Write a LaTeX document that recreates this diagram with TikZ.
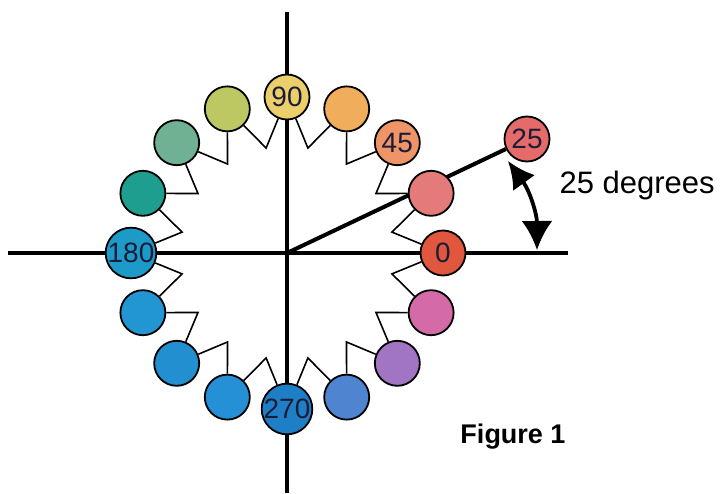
\documentclass[tikz,border=0pt]{standalone}
\usepackage{fontspec}
\setmainfont{Liberation Sans}
\usetikzlibrary{arrows.meta,calc}
\definecolor{numcol}{HTML}{1C1C38}
\definecolor{c0}{HTML}{E0573E}
\definecolor{c1}{HTML}{E47A7A}
\definecolor{c2}{HTML}{EE9466}
\definecolor{c3}{HTML}{F0AE5C}
\definecolor{c4}{HTML}{EBCF6A}
\definecolor{c5}{HTML}{BDC862}
\definecolor{c6}{HTML}{6FB192}
\definecolor{c7}{HTML}{1E9E8E}
\definecolor{c8}{HTML}{1C9BC9}
\definecolor{c9}{HTML}{2196D2}
\definecolor{c10}{HTML}{2290D0}
\definecolor{c11}{HTML}{2590D5}
\definecolor{c12}{HTML}{1F7FC6}
\definecolor{c13}{HTML}{4F84D0}
\definecolor{c14}{HTML}{A275C4}
\definecolor{c15}{HTML}{D46AA8}
\definecolor{c25}{HTML}{E56B6B}
\begin{document}
\begin{tikzpicture}[x=1pt,y=1pt,
  dot/.style={circle,draw=black,line width=1.8pt,minimum size=45pt,inner sep=0pt,
    font=\fontsize{28}{28}\selectfont,text=numcol},
  axis/.style={line width=4pt},
  conn/.style={line width=1.6pt,line join=miter}]
\useasboundingbox (0,0) rectangle (722,493);
\fill[white] (0,0) rectangle (722,493);
\coordinate (O) at (287,240);
\coordinate (L) at (8,240);
\coordinate (R) at (568,240);
\coordinate (T) at (287,481);
\coordinate (B) at (287,0);
\draw[axis] (L) -- (R);
\draw[axis] (T) -- (B);
\node[dot,fill=c25] (d25) at (527,354) {25};
\draw[axis] (O) -- (d25);
\foreach \i/\t in {0/0,1/,2/45,3/,4/90,5/,6/,7/,8/180,9/,10/,11/,12/270,13/,14/,15/} {
  \node[dot,fill=c\i] (p\i) at ($(O)+(\i*22.5:156)$) {\t};
}
\foreach \i in {0,...,15} {
  \pgfmathtruncatemacro\j{mod(\i+1,16)}
  \coordinate (k\i) at ($(O)+(\i*22.5+11.25:107)$);
  \draw[conn] (p\i) -- (k\i) -- (p\j);
}
\coordinate (a1) at (508,332);
\coordinate (a2) at (537,243);
\draw[line width=3.8pt,{Latex[length=27pt,width=27pt]}-{Latex[length=29pt,width=31pt]}]
  (a1) to[bend left=18] (a2);
\node[font=\fontsize{31}{31}\selectfont,anchor=west] (deg) at (556,308) {25 degrees};
\node[font=\bfseries\fontsize{27}{27}\selectfont] (fig) at (513,56) {Figure 1};
\end{tikzpicture}
\end{document}
